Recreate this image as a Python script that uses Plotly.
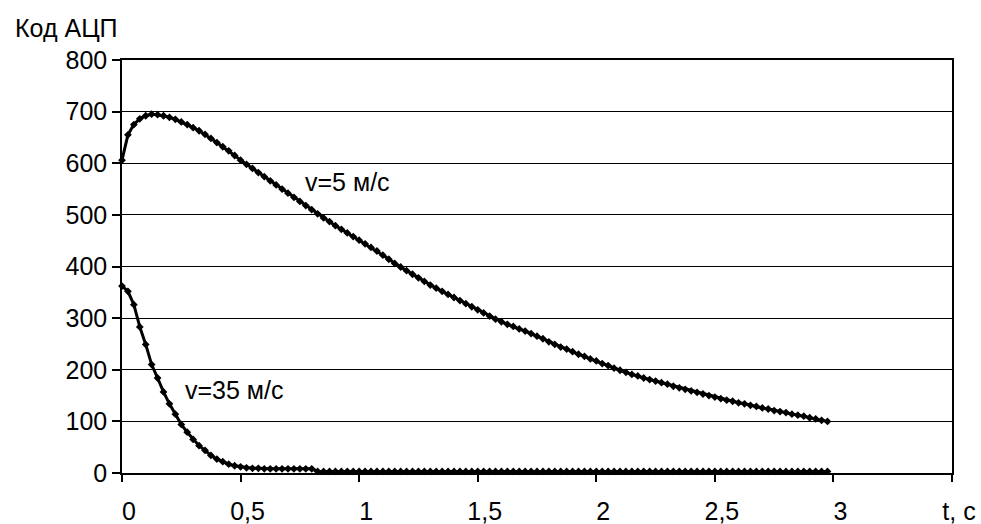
import plotly.graph_objects as go

# time samples, s
T = [0.000, 0.025, 0.050, 0.075, 0.100, 0.125, 0.150, 0.175, 0.200, 0.225,
     0.250, 0.275, 0.300, 0.325, 0.350, 0.375, 0.400, 0.425, 0.450, 0.475,
     0.500, 0.525, 0.550, 0.575, 0.600, 0.625, 0.650, 0.675, 0.700, 0.725,
     0.750, 0.775, 0.800, 0.825, 0.850, 0.875, 0.900, 0.925, 0.950, 0.975,
     1.000, 1.025, 1.050, 1.075, 1.100, 1.125, 1.150, 1.175, 1.200, 1.225,
     1.250, 1.275, 1.300, 1.325, 1.350, 1.375, 1.400, 1.425, 1.450, 1.475,
     1.500, 1.525, 1.550, 1.575, 1.600, 1.625, 1.650, 1.675, 1.700, 1.725,
     1.750, 1.775, 1.800, 1.825, 1.850, 1.875, 1.900, 1.925, 1.950, 1.975,
     2.000, 2.025, 2.050, 2.075, 2.100, 2.125, 2.150, 2.175, 2.200, 2.225,
     2.250, 2.275, 2.300, 2.325, 2.350, 2.375, 2.400, 2.425, 2.450, 2.475,
     2.500, 2.525, 2.550, 2.575, 2.600, 2.625, 2.650, 2.675, 2.700, 2.725,
     2.750, 2.775, 2.800, 2.825, 2.850, 2.875, 2.900, 2.925, 2.950, 2.975]

# ADC code, v = 5 m/s
V5 = [606, 655, 675, 686, 692, 695, 694, 692, 689, 685,
      680, 675, 669, 663, 656, 648, 640, 632, 624, 615,
      606, 598, 590, 582, 574, 566, 558, 550, 542, 534,
      526, 518, 510, 502, 494, 487, 479, 472, 465, 458,
      451, 444, 437, 430, 422, 414, 406, 399, 392, 385,
      378, 371, 364, 358, 352, 346, 340, 334, 328, 322,
      316, 310, 304, 298, 293, 288, 284, 279, 275, 270,
      265, 260, 254, 249, 244, 240, 235, 230, 226, 221,
      217, 212, 208, 203, 199, 195, 191, 188, 184, 181,
      178, 175, 172, 168, 165, 162, 159, 156, 153, 150,
      147, 144, 141, 139, 136, 134, 131, 129, 126, 124,
      121, 119, 117, 114, 112, 110, 107, 105, 102, 100]

# ADC code, v = 35 m/s
V35 = [362, 352, 326, 283, 249, 210, 184, 157, 134, 114,
       94, 79, 65, 53, 44, 34, 27, 22, 17, 14,
       12, 10, 9, 9, 8, 8, 8, 8, 8, 8,
       8, 8, 8, 3, 3, 3, 3, 3, 3, 3,
       3, 3, 3, 3, 3, 3, 3, 3, 3, 3,
       3, 3, 3, 3, 3, 3, 3, 3, 3, 3,
       3, 3, 3, 3, 3, 3, 3, 3, 3, 3,
       3, 3, 3, 3, 3, 3, 3, 3, 3, 3,
       3, 3, 3, 3, 3, 3, 3, 3, 3, 3,
       3, 3, 3, 3, 3, 3, 3, 3, 3, 3,
       3, 3, 3, 3, 3, 3, 3, 3, 3, 3,
       3, 3, 3, 3, 3, 3, 3, 3, 3, 3]

X_TICKS = [0, 0.5, 1, 1.5, 2, 2.5, 3, 3.5]
X_TICK_TEXT = ["0", "0,5", "1", "1,5", "2", "2,5", "3", "t, c"]
Y_TICKS = [0, 100, 200, 300, 400, 500, 600, 700, 800]
Y_TITLE = "Код АЦП"
LABEL_5 = "v=5 м/с"
LABEL_35 = "v=35 м/с"

FONT = "Liberation Sans, Arial, sans-serif"

fig = go.Figure()
for vals in (V5, V35):
    fig.add_trace(go.Scatter(
        x=T, y=vals, mode="lines+markers",
        line=dict(color="black", width=3),
        marker=dict(symbol="diamond", size=6, color="black"),
        showlegend=False, cliponaxis=False))

fig.update_layout(
    width=981, height=524,
    margin=dict(l=122, r=29, t=60, b=51),
    paper_bgcolor="white", plot_bgcolor="white",
    font=dict(family=FONT, size=25, color="black"),
    xaxis=dict(range=[0, 3.5], tickvals=X_TICKS, ticktext=X_TICK_TEXT,
               showgrid=False, zeroline=False, showline=True, mirror=True,
               linecolor="black", linewidth=1.5, ticks="outside", ticklen=7,
               tickcolor="black", tickwidth=1.5, ticklabelshift=7,
               ticklabelstandoff=8, automargin=False),
    yaxis=dict(range=[0, 800], tickvals=Y_TICKS,
               showgrid=True, gridcolor="black", gridwidth=1,
               zeroline=False, showline=True, mirror=True,
               linecolor="black", linewidth=1.5, ticks="outside", ticklen=8,
               tickcolor="black", tickwidth=1.5, automargin=False),
    annotations=[
        dict(text=Y_TITLE, xref="paper", yref="paper", x=-0.131, y=1.078,
             xanchor="left", yanchor="middle", showarrow=False),
        dict(text=LABEL_5, xref="x", yref="y", x=0.763, y=564,
             xanchor="left", yanchor="middle", showarrow=False),
        dict(text=LABEL_35, xref="x", yref="y", x=0.257, y=161,
             xanchor="left", yanchor="middle", showarrow=False),
    ],
)

fig.write_html(
    "out.html",
    config={"displayModeBar": False},
    post_script="document.body.style.margin='0';"
                "document.body.style.overflow='hidden';")
